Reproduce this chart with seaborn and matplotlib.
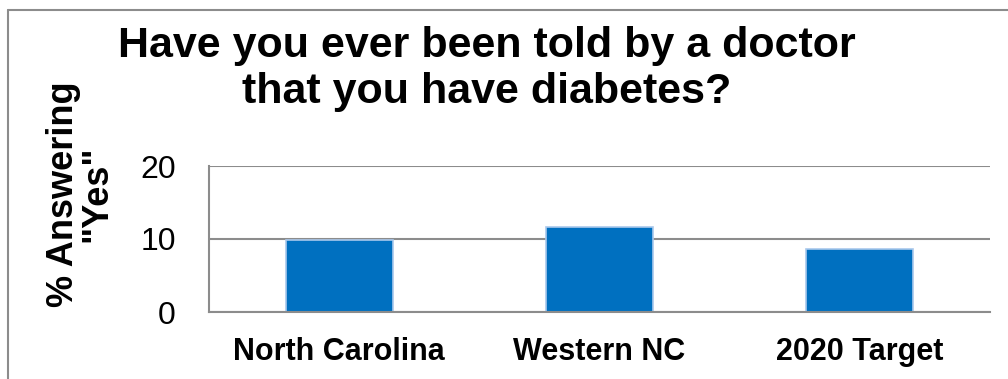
import matplotlib
matplotlib.use("Agg")
import matplotlib.pyplot as plt
import seaborn as sns
from matplotlib.lines import Line2D

# chart data
categories = ["North Carolina", "Western NC", "2020 Target"]
pct_yes = [9.8, 11.7, 8.6]
y_ticks = [0, 10, 20]

title = "Have you ever been told by a doctor\nthat you have diabetes?"
y_label = '% Answering\n"Yes"'

sns.set_theme(style="white")
plt.rcParams["font.family"] = ["Liberation Sans", "DejaVu Sans"]
plt.rcParams["text.color"] = "black"
plt.rcParams["xtick.color"] = "black"
plt.rcParams["ytick.color"] = "black"

fig = plt.figure(figsize=(10.08, 3.79), dpi=100)
ax = fig.add_axes([209 / 1008, 1 - 312 / 379, (990 - 209) / 1008, (312 - 166) / 379])

sns.barplot(x=categories, y=pct_yes, color="#0070C0", saturation=1,
            width=0.41, edgecolor="#A9C8EC", linewidth=1.2, ax=ax)

ax.set_ylim(0, 20)
ax.set_yticks(y_ticks)
ax.set_xlim(-0.5, len(categories) - 0.5)
ax.yaxis.grid(True, color="#8C8C8C", linewidth=1.5)
ax.set_axisbelow(True)
for s in ["top", "right"]:
    ax.spines[s].set_visible(False)
for s in ["left", "bottom"]:
    ax.spines[s].set_color("#8C8C8C")
    ax.spines[s].set_linewidth(1.5)

ax.tick_params(axis="y", labelsize=23, labelcolor="black", pad=24, length=0)
ax.tick_params(axis="x", labelsize=22, labelcolor="black", pad=18, length=0)
for lbl in ax.get_xticklabels():
    lbl.set_fontweight("bold")
ax.set_xlabel("")
ax.set_ylabel("")

fig.text(487 / 1008, 1 - 26 / 379, title, ha="center", va="top", color="black",
         fontsize=31, fontweight="bold", multialignment="center", linespacing=1.2)
fig.text(80 / 1008, 1 - 194 / 379, y_label, ha="center", va="center", rotation=90,
         color="black", fontsize=26, fontweight="bold", multialignment="center",
         linespacing=0.95)

# frame lines on top and left like the original slide
fig.add_artist(Line2D([8 / 1008, 1], [1 - 10 / 379, 1 - 10 / 379], color="#8C8C8C", linewidth=1.5))
fig.add_artist(Line2D([8 / 1008, 8 / 1008], [0, 1 - 10 / 379], color="#8C8C8C", linewidth=1.5))

fig.savefig("out.png", dpi=100)
